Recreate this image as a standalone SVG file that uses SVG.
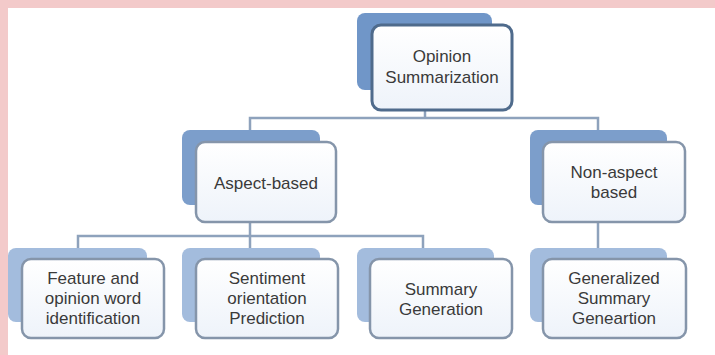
<svg xmlns="http://www.w3.org/2000/svg" width="715" height="355" viewBox="0 0 715 355">
<defs>
<linearGradient id="fg" x1="0" y1="0" x2="0" y2="1">
<stop offset="0" stop-color="#ffffff"/>
<stop offset="1" stop-color="#eef3fa"/>
</linearGradient>
</defs>
<style>
.sh1{fill:#7096c8;}
.sh2{fill:#7c9ecb;}
.sh3{fill:#a3bcdd;}
.fr{fill:url(#fg);stroke:#8595aa;stroke-width:2.5;}
.frt{fill:url(#fg);stroke:#4f6b8c;stroke-width:3;}
.t{font-family:"Liberation Sans",Arial,sans-serif;font-size:17px;fill:#3a3a3a;text-anchor:middle;}
.c{fill:none;stroke:#8ea2bc;stroke-width:2.5;}
</style>
<rect x="0" y="0" width="715" height="355" fill="#ffffff"/>
<rect x="0" y="0" width="715" height="8" fill="#f3caca"/>
<rect x="0" y="0" width="8" height="355" fill="#f3caca"/>
<g id="connectors">
<path class="c" d="M425 110 V118 M250 130 V118 H598 V130"/>
<path class="c" d="M250 222 V236 M78 248 V236 H423 V248 M250 236 V248"/>
<path class="c" d="M598 222 V248"/>
</g>
<g id="n-opinion">
<rect class="sh1" x="357" y="13" width="135" height="77" rx="8"/>
<rect class="frt" x="372" y="25" width="140" height="85" rx="9"/>
<text class="t" x="442" y="62">Opinion</text>
<text class="t" x="442" y="83">Summarization</text>
</g>
<g id="n-aspect">
<rect class="sh2" x="182" y="130" width="138" height="75" rx="8"/>
<rect class="fr" x="196" y="142" width="140" height="80" rx="9"/>
<text class="t" x="266" y="189">Aspect-based</text>
</g>
<g id="n-nonaspect">
<rect class="sh2" x="530" y="130" width="137" height="75" rx="8"/>
<rect class="fr" x="543" y="142" width="142" height="80" rx="9"/>
<text class="t" x="614" y="178">Non-aspect</text>
<text class="t" x="614" y="198">based</text>
</g>
<g id="n-feature">
<rect class="sh3" x="8" y="248" width="139" height="74" rx="8"/>
<rect class="fr" x="22" y="259" width="142" height="79" rx="9"/>
<text class="t" x="93" y="284">Feature and</text>
<text class="t" x="93" y="304">opinion word</text>
<text class="t" x="93" y="324">identification</text>
</g>
<g id="n-sentiment">
<rect class="sh3" x="182" y="248" width="138" height="74" rx="8"/>
<rect class="fr" x="196" y="259" width="142" height="79" rx="9"/>
<text class="t" x="267" y="284">Sentiment</text>
<text class="t" x="267" y="304">orientation</text>
<text class="t" x="267" y="324">Prediction</text>
</g>
<g id="n-summary">
<rect class="sh3" x="357" y="248" width="137" height="74" rx="8"/>
<rect class="fr" x="370" y="259" width="142" height="79" rx="9"/>
<text class="t" x="441" y="295">Summary</text>
<text class="t" x="441" y="315">Generation</text>
</g>
<g id="n-generalized">
<rect class="sh3" x="530" y="248" width="137" height="74" rx="8"/>
<rect class="fr" x="543" y="259" width="143" height="79" rx="9"/>
<text class="t" x="614" y="284">Generalized</text>
<text class="t" x="614" y="304">Summary</text>
<text class="t" x="614" y="324">Geneartion</text>
</g>
</svg>
